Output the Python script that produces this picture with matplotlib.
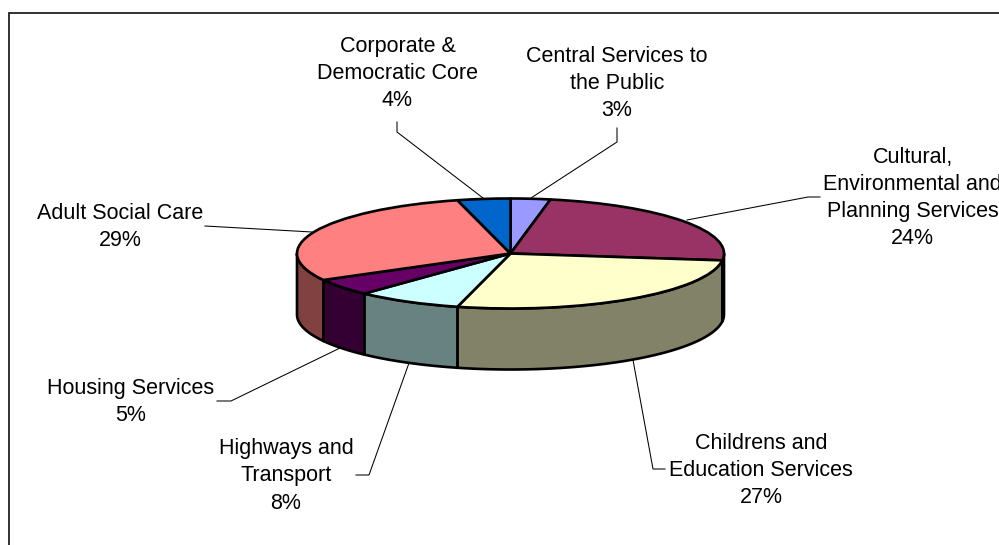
import numpy as np
import matplotlib
matplotlib.use("Agg")
import matplotlib.pyplot as plt
from matplotlib.patches import Polygon
from matplotlib.colors import to_rgb

plt.rcParams['font.family'] = ['Liberation Sans', 'DejaVu Sans']

# Budget share by service, clockwise from twelve o'clock
services = ["Central Services to\nthe Public",
            "Cultural,\nEnvironmental and\nPlanning Services",
            "Childrens and\nEducation Services",
            "Highways and\nTransport",
            "Housing Services",
            "Adult Social Care",
            "Corporate &\nDemocratic Core"]
shares = [3, 24, 27, 8, 5, 29, 4]
colors = ["#9999FF", "#993366", "#FFFFCC", "#CCFFFF", "#660066", "#FF8080", "#0066CC"]

W, H = 999, 545
CX, CY, RX, RY = 510.5, 253.5, 213.5, 55.0
DEPTH = 61.0 / RY
EDGE = 1.9
FS = 15.5

fig = plt.figure(figsize=(W / 100, H / 100), dpi=100, facecolor="white")

# Pixel-space overlay for the frame, leader lines and labels
over = fig.add_axes([0, 0, 1, 1], zorder=3)
over.set_xlim(0, W)
over.set_ylim(H, 0)
over.axis("off")
over.patch.set_alpha(0)

# Squashed pie: the axes box is the bounding box of the top-face ellipse
pie_ax = fig.add_axes([(CX - RX) / W, 1 - (CY + RY) / H, 2 * RX / W, 2 * RY / H], zorder=2)
wedges, _ = pie_ax.pie(shares, colors=colors, startangle=90, counterclock=False, radius=1,
                       wedgeprops=dict(edgecolor="black", linewidth=EDGE, clip_on=False,
                                       joinstyle="round", zorder=3))
pie_ax.set_aspect("auto")
pie_ax.set_xlim(-1, 1)
pie_ax.set_ylim(-1, 1)

# Side wall: only the part of each slice on the front half of the rim is visible
bounds = np.cumsum([0] + shares) / sum(shares) * 360.0
for start, stop, color in zip(bounds[:-1], bounds[1:], colors):
    a = max(start, 90.0)
    b = min(stop, 270.0)
    if b <= a:
        continue
    t = np.radians(np.linspace(a, b, 80))
    top = np.column_stack([np.sin(t), np.cos(t)])
    low = (top - [0, DEPTH])[::-1]
    pie_ax.add_patch(Polygon(np.vstack([top, low]), closed=True,
                             facecolor=tuple(c * 0.51 for c in to_rgb(color)),
                             edgecolor="black", linewidth=EDGE, clip_on=False,
                             joinstyle="round", zorder=2))

# Chart frame: the top and left edges
over.plot([8.5, 8.5, W + 2], [H + 2, 13, 13], color="#222222", lw=1.3, solid_joinstyle="miter")

leaders = [
    [(617, 128), (617, 142), (531, 198)],
    [(820, 197), (808, 197), (687, 220)],
    [(665, 469), (653, 469), (633, 360)],
    [(356, 475), (369, 475), (409, 363)],
    [(217, 401), (231, 401), (340, 348)],
    [(205, 226), (312, 232)],
    [(397, 122), (397, 132), (483, 198)],
]
label_pos = [(617, 83.5), (912.5, 198), (761, 470.5), (286, 476), (131, 402), (120, 227), (397.5, 73.5)]

for path, (lx, ly), name, share in zip(leaders, label_pos, services, shares):
    xs, ys = zip(*path)
    over.plot(xs, ys, color="black", lw=0.75)
    over.text(lx, ly, f"{name}\n{share}%", ha="center", va="center", multialignment="center",
              fontsize=FS, color="black", linespacing=1.395, clip_on=False)

fig.savefig("out.png", dpi=100)
